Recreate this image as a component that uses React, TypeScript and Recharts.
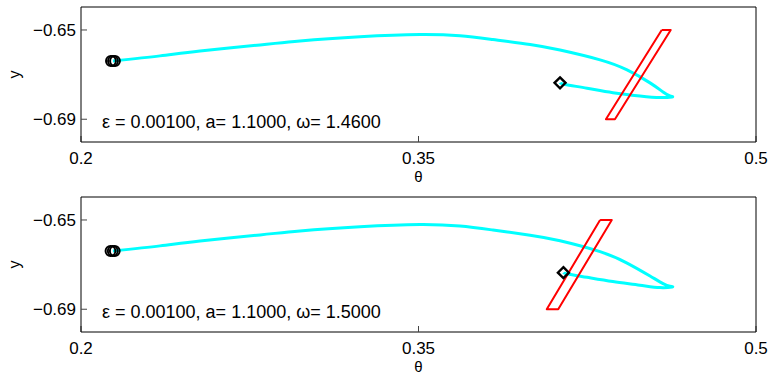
import { ComposedChart, Line, Scatter, XAxis, YAxis } from 'recharts'

const thetaTicks = [0.2, 0.35, 0.5]
const yTicks = [-0.69, -0.65]

// upper panel orbit (theta, y)
const orbitA = [
  { theta: 0.2142, y: -0.6639 },
  { theta: 0.2351, y: -0.6616 },
  { theta: 0.2529, y: -0.6594 },
  { theta: 0.2796, y: -0.6567 },
  { theta: 0.2973, y: -0.6549 },
  { theta: 0.324, y: -0.653 },
  { theta: 0.3507, y: -0.652 },
  { theta: 0.3684, y: -0.6526 },
  { theta: 0.3831, y: -0.6543 },
  { theta: 0.3996, y: -0.6565 },
  { theta: 0.4129, y: -0.659 },
  { theta: 0.4307, y: -0.6634 },
  { theta: 0.4427, y: -0.6679 },
  { theta: 0.4529, y: -0.6737 },
  { theta: 0.4587, y: -0.6778 },
  { theta: 0.4618, y: -0.6796 },
  { theta: 0.4627, y: -0.68 },
  { theta: 0.4573, y: -0.6803 },
  { theta: 0.4484, y: -0.6796 },
  { theta: 0.4364, y: -0.6781 },
  { theta: 0.4249, y: -0.6761 },
  { theta: 0.4151, y: -0.6744 },
  { theta: 0.4129, y: -0.6737 },
]

// lower panel orbit
const orbitB = [
  { theta: 0.2142, y: -0.6639 },
  { theta: 0.2351, y: -0.6616 },
  { theta: 0.2529, y: -0.6594 },
  { theta: 0.2796, y: -0.6567 },
  { theta: 0.2973, y: -0.6549 },
  { theta: 0.324, y: -0.653 },
  { theta: 0.3507, y: -0.652 },
  { theta: 0.3684, y: -0.6527 },
  { theta: 0.3831, y: -0.6545 },
  { theta: 0.3996, y: -0.6568 },
  { theta: 0.4129, y: -0.6593 },
  { theta: 0.4307, y: -0.6642 },
  { theta: 0.4427, y: -0.6693 },
  { theta: 0.4529, y: -0.6751 },
  { theta: 0.4587, y: -0.6785 },
  { theta: 0.4618, y: -0.6797 },
  { theta: 0.4627, y: -0.68 },
  { theta: 0.4573, y: -0.6803 },
  { theta: 0.4484, y: -0.6792 },
  { theta: 0.4364, y: -0.6776 },
  { theta: 0.4249, y: -0.6757 },
  { theta: 0.4163, y: -0.6742 },
  { theta: 0.4144, y: -0.6736 },
]

// red section boxes (closed)
const bandA = [
  { theta: 0.4581, y: -0.65 },
  { theta: 0.4621, y: -0.65 },
  { theta: 0.4373, y: -0.69 },
  { theta: 0.4333, y: -0.69 },
  { theta: 0.4581, y: -0.65 },
]
const bandB = [
  { theta: 0.4307, y: -0.65 },
  { theta: 0.4359, y: -0.65 },
  { theta: 0.4121, y: -0.69 },
  { theta: 0.407, y: -0.69 },
  { theta: 0.4307, y: -0.65 },
]

const startA = [
  { theta: 0.2133, y: -0.6639 },
  { theta: 0.2142, y: -0.6639 },
  { theta: 0.2151, y: -0.6639 },
]
const startB = [
  { theta: 0.2131, y: -0.6639 },
  { theta: 0.2141, y: -0.6639 },
  { theta: 0.215, y: -0.6639 },
]
const endA = [{ theta: 0.4129, y: -0.6737 }]
const endB = [{ theta: 0.4144, y: -0.6736 }]

const labelA = 'ε = 0.00100, a= 1.1000, ω= 1.4600'
const labelB = 'ε = 0.00100, a= 1.1000, ω= 1.5000'

const FONT = '"Liberation Sans", Arial, Helvetica, sans-serif'
const tickFont = { fontSize: 17, fill: '#000', fontFamily: FONT }
const fmtY = (v: number) => (v < 0 ? '\u2212' + Math.abs(v).toFixed(2) : v.toFixed(2))
const fmtX = (v: number) => String(v)

const Ring = (p: any) => <circle cx={p.cx} cy={p.cy} r={4.9} fill="none" stroke="#000" strokeWidth={2} />
const Diamond = (p: any) => (
  <path
    d={`M${p.cx},${p.cy - 5.5}L${p.cx + 5.5},${p.cy}L${p.cx},${p.cy + 5.5}L${p.cx - 5.5},${p.cy}Z`}
    fill="none"
    stroke="#000"
    strokeWidth={2.4}
  />
)
const NoTick = () => <g />

function Panel({ orbit, band, start, end, text, top }: any) {
  return (
    <div style={{ position: 'absolute', left: 0, top, width: 770, height: 184 }}>
      <ComposedChart width={770} height={184} margin={{ top: 6, right: 13, bottom: 0, left: 0 }}>
        <XAxis
          xAxisId="b"
          dataKey="theta"
          type="number"
          domain={[0.2, 0.5]}
          ticks={thetaTicks}
          interval={0}
          allowDataOverflow
          height={42}
          tickSize={-6}
          tickMargin={16}
          tickFormatter={fmtX}
          tick={tickFont}
          tickLine={{ stroke: '#444' }}
          axisLine={{ stroke: '#000' }}
          label={{ value: 'θ', position: 'insideBottom', offset: 2, style: { fontSize: 15, fill: '#000', fontFamily: FONT } }}
        />
        <XAxis
          xAxisId="t"
          orientation="top"
          dataKey="theta"
          type="number"
          domain={[0.2, 0.5]}
          ticks={thetaTicks}
          interval={0}
          height={1}
          tickSize={-6}
          tick={NoTick}
          tickLine={{ stroke: '#444' }}
          axisLine={{ stroke: '#000' }}
        />
        <YAxis
          yAxisId="l"
          dataKey="y"
          type="number"
          domain={[-0.7002, -0.6397]}
          ticks={yTicks}
          interval={0}
          allowDataOverflow
          width={81}
          tickSize={-6}
          tickMargin={11}
          tickFormatter={fmtY}
          tick={tickFont}
          tickLine={{ stroke: '#444' }}
          axisLine={{ stroke: '#000' }}
          label={{ value: 'y', angle: -90, position: 'insideLeft', offset: 14, style: { fontSize: 16, fill: '#000', fontFamily: FONT, textAnchor: 'middle' } }}
        />
        <YAxis
          yAxisId="r"
          orientation="right"
          dataKey="y"
          type="number"
          domain={[-0.7002, -0.6397]}
          ticks={yTicks}
          interval={0}
          width={1}
          tickSize={-6}
          tick={NoTick}
          tickLine={{ stroke: '#444' }}
          axisLine={{ stroke: '#000' }}
        />
        <Line xAxisId="b" yAxisId="l" data={orbit} dataKey="y" type="natural" stroke="#00ffff" strokeWidth={3} dot={false} activeDot={false} isAnimationActive={false} />
        <Line xAxisId="b" yAxisId="l" data={band} dataKey="y" type="linear" stroke="#ff0000" strokeWidth={2} strokeLinejoin="round" dot={false} activeDot={false} isAnimationActive={false} />
        <Scatter xAxisId="b" yAxisId="l" data={start} dataKey="y" shape={Ring} isAnimationActive={false} />
        <Scatter xAxisId="b" yAxisId="l" data={end} dataKey="y" shape={Diamond} isAnimationActive={false} />
      </ComposedChart>
      <svg width={770} height={184} style={{ position: 'absolute', left: 0, top: 0, pointerEvents: 'none' }}>
        <text x={102} y={127.5} fontSize={18} fontFamily={FONT} fill="#000">
          {text}
        </text>
      </svg>
    </div>
  )
}

export default function App() {
  return (
    <div style={{ position: 'absolute', left: 0, top: 0, width: 770, height: 374, background: '#fff', overflow: 'hidden' }}>
      <Panel orbit={orbitA} band={bandA} start={startA} end={endA} text={labelA} top={0} />
      <Panel orbit={orbitB} band={bandB} start={startB} end={endB} text={labelB} top={190} />
    </div>
  )
}
